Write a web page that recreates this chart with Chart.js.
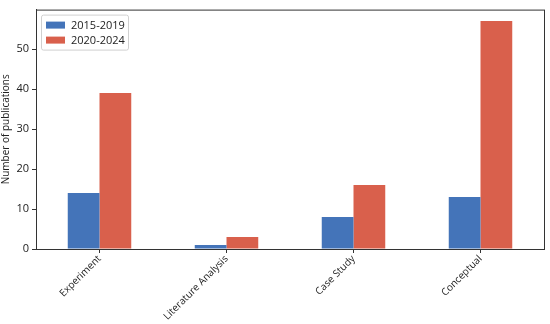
<!DOCTYPE html>
<html>
<head>
<meta charset="utf-8">
<script src="https://cdn.jsdelivr.net/npm/chart.js@4"></script>
<style>
  html, body { margin: 0; padding: 0; background: #fff; }
  #wrap { width: 550px; height: 324px; }
</style>
</head>
<body>
<div id="wrap"><canvas id="chart" width="550" height="324"></canvas></div>
<script>
// Publication counts by study type
const categories = ['Experiment', 'Literature Analysis', 'Case Study', 'Conceptual'];
const seriesNames = ['2015-2019', '2020-2024'];
const early = [14, 1, 8, 13];
const recent = [39, 3, 16, 57];
const yTicks = [0, 10, 20, 30, 40, 50];

const BLUE = '#4474b9';
const RED = '#d9604c';
const FONT = 'Open Sans';

// axes frame (matplotlib-style box) + legend inside the plot, upper left
const framePlugin = {
    id: 'frame',
    afterDraw(chart) {
        const { ctx, chartArea: a } = chart;
        ctx.save();
        ctx.strokeStyle = '#333';
        ctx.lineWidth = 1;
        ctx.strokeRect(a.left + 0.5, a.top + 0.5, a.right - a.left, a.bottom - a.top);

        // legend
        const x = a.left + 5, y = a.top + 5;
        const w = 87, h = 35;
        ctx.fillStyle = 'rgba(255,255,255,0.8)';
        ctx.strokeStyle = '#d0d0d0';
        ctx.lineWidth = 1;
        ctx.beginPath();
        ctx.roundRect(x + 0.5, y + 0.5, w, h, 2);
        ctx.fill();
        ctx.stroke();
        ctx.font = `11px "${FONT}"`;
        ctx.textBaseline = 'middle';
        chart.data.datasets.forEach((ds, i) => {
            const ry = y + 10 + i * 15;
            ctx.fillStyle = ds.backgroundColor;
            ctx.fillRect(x + 5, ry - 3, 19, 7);
            ctx.fillStyle = '#222';
            ctx.fillText(ds.label, x + 30, ry + 1);
        });
        ctx.restore();
    }
};

new Chart(document.getElementById('chart'), {
    type: 'bar',
    data: {
        labels: categories,
        datasets: [
            { label: seriesNames[0], data: early, backgroundColor: BLUE },
            { label: seriesNames[1], data: recent, backgroundColor: RED }
        ]
    },
    options: {
        responsive: false,
        animation: false,
        devicePixelRatio: 1,
        layout: { padding: { top: 8, right: 6, left: 0, bottom: 0 } },
        datasets: {
            bar: { categoryPercentage: 0.5, barPercentage: 1.0 }
        },
        plugins: {
            legend: { display: false },
            tooltip: { enabled: false }
        },
        scales: {
            x: {
                offset: true,
                grid: { drawOnChartArea: false, drawTicks: true, tickLength: 4, color: '#333', offset: false },
                border: { display: true, color: '#333' },
                ticks: {
                    color: '#222',
                    font: { family: FONT, size: 10 },
                    minRotation: 45,
                    maxRotation: 45,
                    padding: 0
                },
                afterFit: (s) => { s.height = 75; }
            },
            y: {
                min: 0,
                max: 59.85,
                afterBuildTicks: (s) => { s.ticks = yTicks.map(v => ({ value: v })); },
                grid: { drawOnChartArea: false, drawTicks: true, tickLength: 4, color: '#333' },
                border: { display: true, color: '#333' },
                ticks: {
                    color: '#222',
                    font: { family: FONT, size: 11 },
                    padding: 3
                },
                title: {
                    display: true,
                    text: 'Number of publications',
                    color: '#222',
                    font: { family: FONT, size: 10 },
                    padding: { top: 0, bottom: 4 }
                },
                afterFit: (s) => { s.width = 36; }
            }
        }
    },
    plugins: [framePlugin]
});
</script>
</body>
</html>
